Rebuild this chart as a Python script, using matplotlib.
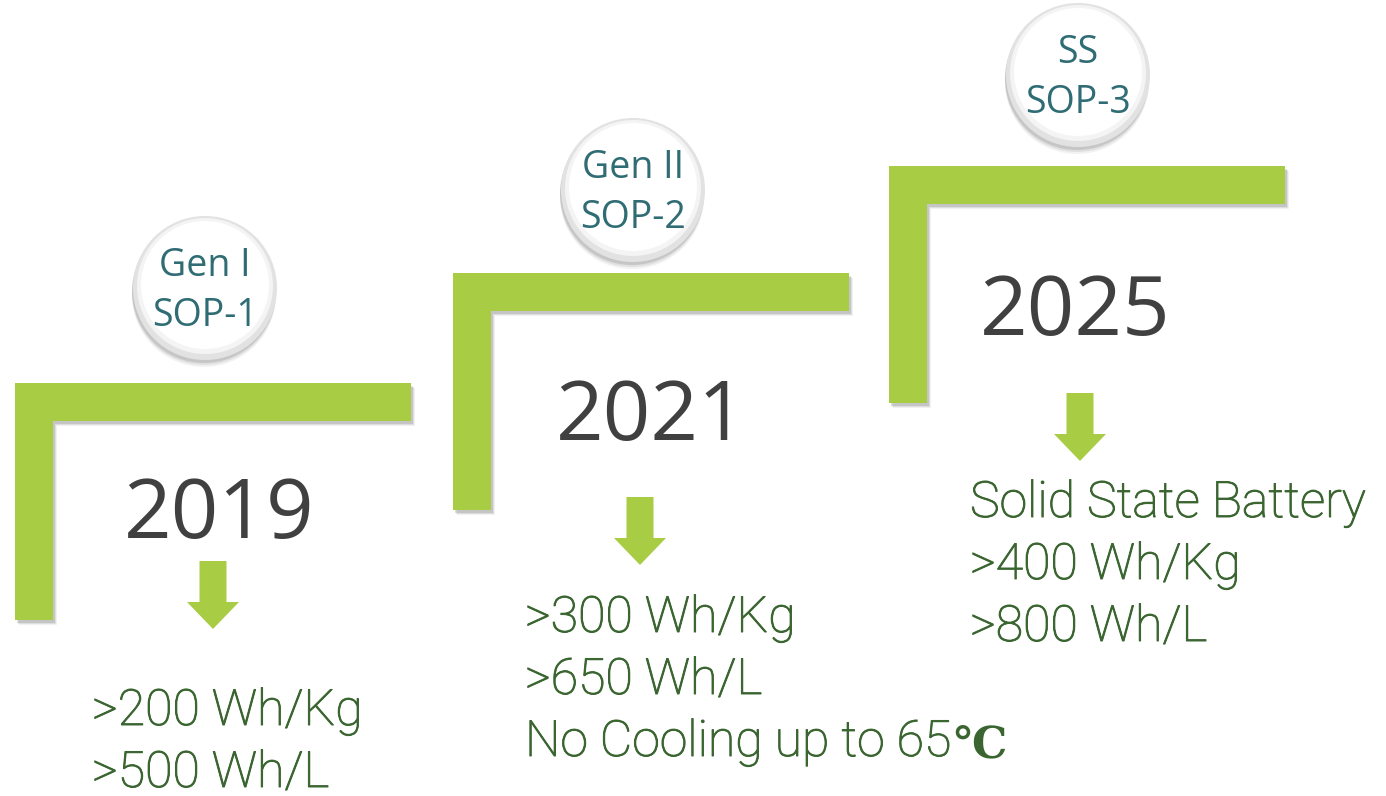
import matplotlib.pyplot as plt
import matplotlib.patheffects as pe
from matplotlib.patches import Polygon, Circle

# content
labels = ['Gen I\nSOP-1', 'Gen II\nSOP-2', 'SS\nSOP-3']
years = ['2019', '2021', '2025']
specs = [
    ['>200 Wh/Kg', '>500 Wh/L'],
    ['>300 Wh/Kg', '>650 Wh/L', 'No Cooling up to 65\u2103'],
    ['Solid State Battery', '>400 Wh/Kg', '>800 Wh/L'],
]

# layout (pixel space of the picture, y grows downwards)
bracket_xy = [(15, 383), (453, 273), (889, 166)]
circle_xy = [(205, 288), (633, 190), (1078, 75)]
year_xy = [(219, 538), (651, 440), (1075, 335)]
arrow_xy = [(213, 561), (640, 497), (1080, 393)]
spec_xy = [(92, 725), (525, 632), (970, 517)]

green = '#a8cd45'
spec_color = '#3a6530'
label_color = '#2f6c74'
year_color = '#404040'

W, T, H = 396, 38, 237      # bracket size
R = 72                      # circle radius
line_gap = 62


def bracket(x, y):
    return [(x, y), (x + W, y), (x + W, y + T), (x + T, y + T), (x + T, y + H), (x, y + H)]


def arrow(cx, y):
    sw, sl, hw, hl = 27, 41, 52, 27
    return [(cx - sw / 2, y), (cx + sw / 2, y), (cx + sw / 2, y + sl), (cx + hw / 2, y + sl),
            (cx, y + sl + hl), (cx - hw / 2, y + sl), (cx - sw / 2, y + sl)]


fig = plt.figure(figsize=(13.86, 7.96), dpi=100)
ax = fig.add_axes([0, 0, 1, 1])
ax.set_xlim(0, 1386)
ax.set_ylim(796, 0)
ax.axis('off')

thicker = [pe.withStroke(linewidth=0.7, foreground=spec_color)]

for i in range(3):
    bx, by = bracket_xy[i]
    # soft shadow under bracket
    for k, a in zip([5, 4, 3], [0.08, 0.12, 0.18]):
        ax.add_patch(Polygon([(px + k - 1, py + k) for px, py in bracket(bx, by)],
                             closed=True, fc='#555555', ec='none', alpha=a))
    ax.add_patch(Polygon(bracket(bx, by), closed=True, fc=green, ec='none'))

    # circle badge with shadow
    cx, cy = circle_xy[i]
    for k, a in zip([7, 5, 3], [0.08, 0.12, 0.2]):
        ax.add_patch(Circle((cx - 1, cy + k), R, fc='#606060', ec='none', alpha=a))
    ax.add_patch(Circle((cx, cy), R, fc='#e2e2e2', ec='none'))
    ax.add_patch(Circle((cx, cy - 2), R - 4, fc='#f4f4f4', ec='none'))
    ax.add_patch(Circle((cx, cy - 3), R - 8, fc='white', ec='none'))
    top, bottom = labels[i].split('\n')
    ax.text(cx, cy - 22, top, ha='center', va='center', fontsize=27,
            family='Open Sans', color=label_color)
    ax.text(cx, cy + 28, bottom, ha='center', va='center', fontsize=27,
            family='Open Sans', color=label_color)

    # year
    yx, yy = year_xy[i]
    ax.text(yx, yy, years[i], ha='center', va='baseline', fontsize=60,
            family='Open Sans', color=year_color)

    # arrow
    ax_, ay = arrow_xy[i]
    ax.add_patch(Polygon(arrow(ax_, ay), closed=True, fc=green, ec='none'))

    # specs
    sx, sy = spec_xy[i]
    for j, line in enumerate(specs[i]):
        y = sy + j * line_gap
        if line.endswith('\u2103'):
            t = ax.text(sx, y, line[:-1], ha='left', va='baseline', fontsize=36,
                        family='Roboto', fontweight='light', color=spec_color,
                        path_effects=thicker)
            ax.annotate(line[-1], xy=(1, 0), xycoords=t, xytext=(1, 0),
                        textcoords='offset points', ha='left', va='bottom',
                        fontsize=32, family='DejaVu Serif', fontweight='bold',
                        color=spec_color)
        else:
            ax.text(sx, y, line, ha='left', va='baseline', fontsize=36,
                    family='Roboto', fontweight='light', color=spec_color,
                    path_effects=thicker)

fig.savefig('out.png', dpi=100)
